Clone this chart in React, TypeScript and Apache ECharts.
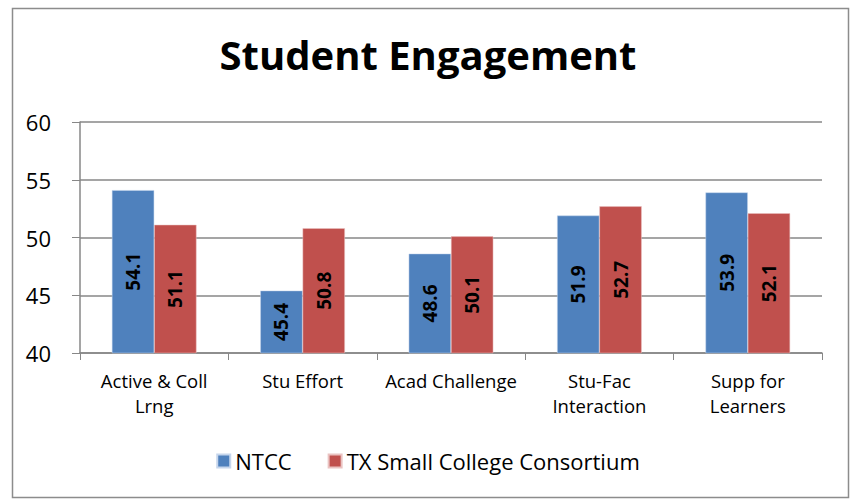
import React, { useEffect, useRef } from "react";
import * as echarts from "echarts";

const categories = ["Active & Coll\nLrng", "Stu Effort", "Acad Challenge", "Stu-Fac\nInteraction", "Supp for\nLearners"];
const ntcc = [54.1, 45.4, 48.6, 51.9, 53.9];
const txSmall = [51.1, 50.8, 50.1, 52.7, 52.1];
const seriesNames = ["NTCC", "TX Small College Consortium"];
const yTicks = { min: 40, max: 60, interval: 5 };

const FONT = "'Open Sans', Lato, sans-serif";

export default function App() {
  const ref = useRef<HTMLDivElement>(null);
  useEffect(() => {
    if (!ref.current) return;
    const chart = echarts.init(ref.current, null, { renderer: "svg" });
    const label = {
      show: true,
      position: "inside",
      rotate: 90,
      color: "#000",
      fontWeight: "bold",
      fontSize: 19,
      fontFamily: FONT,
      formatter: (p: any) => p.value.toFixed(1),
    };
    chart.setOption({
      animation: false,
      backgroundColor: "#fff",
      title: {
        text: "Student Engagement",
        left: "center",
        top: 29,
        textStyle: { fontSize: 40, fontWeight: "bold", color: "#000", fontFamily: FONT },
      },
      graphic: [
        {
          type: "rect",
          shape: { x: 12.5, y: 8.5, width: 836, height: 489 },
          style: { fill: "none", stroke: "#8c8c8c", lineWidth: 1.5 },
          silent: true,
        },
      ],
      legend: {
        bottom: 23,
        left: "center",
        itemWidth: 13,
        itemHeight: 13,
        itemGap: 36,
        icon: "rect",
        textStyle: { fontSize: 22, color: "#000", fontFamily: FONT },
        data: seriesNames,
      },
      grid: { left: 80, right: 34, top: 122, bottom: 147 },
      xAxis: {
        type: "category",
        data: categories,
        axisLine: { lineStyle: { color: "#878787", width: 1.5 } },
        axisTick: { show: true, length: 7, lineStyle: { color: "#878787" } },
        axisLabel: {
          interval: 0,
          hideOverlap: false,
          fontSize: 18.5,
          color: "#000",
          fontFamily: FONT,
          lineHeight: 25,
          margin: 15,
        },
      },
      yAxis: {
        type: "value",
        min: yTicks.min,
        max: yTicks.max,
        interval: yTicks.interval,
        axisLine: { show: true, lineStyle: { color: "#878787", width: 1.5 } },
        axisTick: { show: true, length: 8, lineStyle: { color: "#878787" } },
        splitLine: { lineStyle: { color: "#878787", width: 1.5 } },
        axisLabel: { fontSize: 22, color: "#000", fontFamily: FONT, margin: 29 },
      },
      series: [
        {
          name: seriesNames[0],
          type: "bar",
          data: ntcc,
          barGap: "0%",
          barCategoryGap: "43%",
          itemStyle: { color: "#4F81BD", borderColor: "#c6d6ec", borderWidth: 0.5 },
          label,
        },
        {
          name: seriesNames[1],
          type: "bar",
          data: txSmall,
          barGap: "0%",
          barCategoryGap: "43%",
          itemStyle: { color: "#C0504D", borderColor: "#eac3c2", borderWidth: 0.5 },
          label,
        },
      ],
    });
    return () => chart.dispose();
  }, []);
  return <div ref={ref} style={{ width: 856, height: 500, position: "absolute", left: 0, top: 0 }} />;
}
